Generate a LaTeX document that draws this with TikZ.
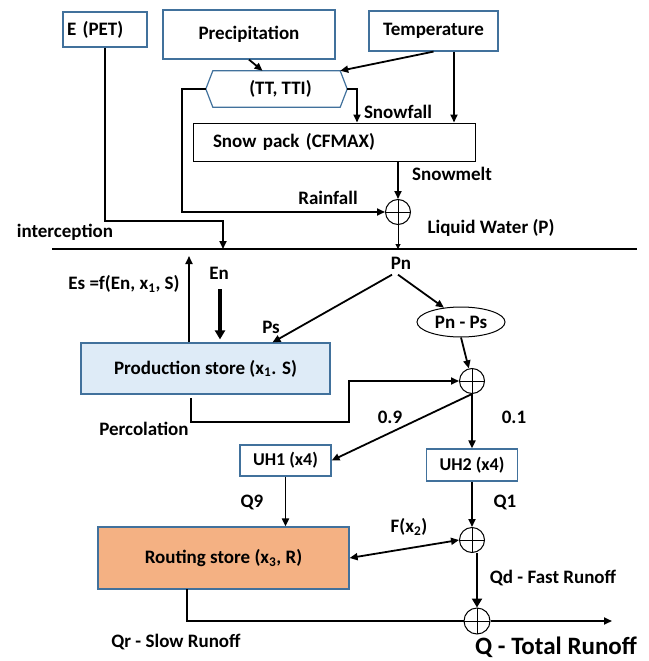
\documentclass[tikz,border=0pt]{standalone}
\usepackage{fontspec}
\setmainfont{Carlito}
\usetikzlibrary{arrows.meta,shapes.geometric}
\definecolor{boxBlue}{RGB}{65,113,156}
\definecolor{prodFill}{RGB}{222,235,247}
\definecolor{routeFill}{RGB}{244,177,131}
\newcommand{\lblFont}{\fontsize{19}{22}\selectfont\bfseries}
\newcommand{\smallLblFont}{\fontsize{18}{21}\selectfont\bfseries}
\newcommand{\bigLblFont}{\fontsize{25}{29}\selectfont\bfseries}
\tikzstyle{flow}=[line width=1.8pt, -{Triangle[length=8pt, width=7pt]}]
\tikzstyle{thinFlow}=[line width=1pt, -{Triangle[length=5pt, width=5pt]}]
\tikzstyle{heavyFlow}=[line width=3.2pt, -{Triangle[length=9pt, width=10pt]}]
\tikzstyle{bothFlow}=[line width=1.8pt, {Triangle[length=8pt, width=7pt]}-{Triangle[length=8pt, width=7pt]}]
\tikzstyle{blueBox}=[shape = rectangle, draw = boxBlue, line width = 1.2pt, fill = white, inner sep = 3pt]
\tikzstyle{plainBox}=[shape = rectangle, draw, line width = 1pt, fill = white, inner sep = 3pt]
\tikzstyle{sumNode}=[shape = circle, draw, line width = 1pt, minimum size = 25pt, inner sep = 0pt,
  path picture = {\draw[line width = 1pt] (path picture bounding box.north) -- (path picture bounding box.south)
  (path picture bounding box.west) -- (path picture bounding box.east);}]

\begin{document}
\begin{tikzpicture}[x = 1pt, y = -1pt, font = \lblFont]
\useasboundingbox (0,0) rectangle (648,661);
\node[blueBox, text width = 76pt, inner xsep = 4pt, align = left, minimum height = 35pt] (epet) at (105,29.5) {E (PET)};
\node[blueBox, minimum width = 172pt, minimum height = 49pt] (precip) at (249,34.5) {Precipitation};
\node[blueBox, minimum width = 129pt, minimum height = 40pt] (temp) at (433.5,31) {Temperature};
\node[minimum width = 141pt, minimum height = 36pt, inner sep = 0pt] (tt) at (276.5,89) {\hspace{8pt}(TT, TTI)};
\draw[draw = boxBlue, line width = 1.2pt] (tt.west) -- ([xshift = 7pt]tt.north west) -- ([xshift = -7pt]tt.north east)
  -- (tt.east) -- ([xshift = -7pt]tt.south east) -- ([xshift = 7pt]tt.south west) -- cycle;
\node[plainBox, text width = 242pt, inner xsep = 20pt, align = left, minimum height = 38pt] (snow) at (334,142) {Snow pack (CFMAX)};
\node[sumNode] (c1) at (398,212) {};
\coordinate (ll) at (52,249);
\coordinate (lr) at (637,249);
\node (snowfall) at (398,112) {Snowfall};
\node (snowmelt) at (452,174) {Snowmelt};
\node (rainfall) at (328,198) {Rainfall};
\node (liquid) at (491,228) {Liquid Water (P)};
\node (intercep) at (65,232) {interception};
\node (pn) at (401,263) {Pn};
\node (es) at (124,284) {Es =f(En, x\textsubscript{1}, S)};
\node (en) at (219,273) {En};
\node (ps) at (271,327) {Ps};
\node[ellipse, draw, line width = 1pt, minimum width = 88pt, minimum height = 30pt, inner sep = 0pt] (pnps) at (461,322) {Pn - Ps};
\node[blueBox, fill = prodFill, minimum width = 249pt, minimum height = 51pt] (prod) at (205.5,368.5) {Production store (x\textsubscript{1}. S)};
\node[sumNode] (c2) at (472,381) {};
\node (percl) at (144,429) {Percolation};
\node (p9) at (390,417) {0.9};
\node (p1) at (514,417) {0.1};
\node[blueBox, minimum width = 91pt, minimum height = 31pt, font = \smallLblFont] (uh1) at (285.5,460.5) {UH1 (x4)};
\node[blueBox, minimum width = 91pt, minimum height = 32pt, font = \smallLblFont] (uh2) at (472,465) {UH2 (x4)};
\node (q9) at (252,502) {Q9};
\node (q1) at (505,502) {Q1};
\node[blueBox, fill = routeFill, minimum width = 251pt, minimum height = 62pt] (route) at (223.5,558) {Routing store (x\textsubscript{3}, R)};
\node[sumNode] (c3) at (472,540) {};
\node (fx2) at (409,527) {F(x\textsubscript{2})};
\node[sumNode, minimum size = 26pt] (c4) at (477,621) {};
\node (qd) at (553,578) {Qd - Fast Runoff};
\node[font = \bigLblFont] (qtot) at (556,647) {Q - Total Runoff};
\node (qr) at (176,642) {Qr - Slow Runoff};
\coordinate (ibend) at (223,221);
\coordinate (iend) at (223,249);
\coordinate (estop) at (189,256);
\coordinate (entop) at (220,289);
\coordinate (pstart) at (191,398);
\coordinate (pbend) at (349,422);
\coordinate (rstart) at (187,589);
\coordinate (qout) at (612,621);
\draw[line width = 1.2pt] (ll) -- (lr);
\draw[flow] (epet.south) |- (ibend) -- (iend);
\draw[flow] (precip.south) -- ([xshift = -14pt]tt.north);
\draw[flow] (temp.south) -- ([xshift = -7pt]tt.north east);
\draw[flow] ([xshift = 20.5pt]temp.south) -- ([xshift = 20.5pt]temp.south |- snow.north);
\draw[flow] (tt.east) -| ([xshift = 23pt]snow.north);
\draw[flow] (tt.west) -- ++(-24,0) |- (c1.west);
\draw[flow] (snow.south -| c1) -- (c1.north);
\draw[thinFlow] (c1.south) -- (c1 |- ll);
\draw[flow] ([xshift = -9pt, yshift = -2pt]pn.south) -- ([xshift = 67pt]prod.north);
\draw[flow] ([xshift = -3pt, yshift = -2pt]pn.south) -- (pnps.140);
\draw[flow] (prod.north -| estop) -- (estop);
\draw[heavyFlow, shorten > = 3pt] (entop) -- (entop |- prod.north);
\draw[flow] (pnps.south) -- (c2);
\draw[flow] (pstart) |- (pbend) |- (c2.west);
\draw[flow] (c2.south) -- (uh1.east);
\draw[flow] (c2.south) -- (uh2.north);
\draw[flow] (uh1.south) -- (uh1.south |- route.north);
\draw[flow] (uh2.south) -- (c3.north);
\draw[bothFlow] (route.east) -- (c3.west);
\draw[heavyFlow, line width = 2.6pt] (c3.south -| c4) -- (c4.north);
\draw[line width = 1.8pt] (rstart) |- (c4.west);
\draw[flow] (c4.east) -- (qout);
\end{tikzpicture}
\end{document}
